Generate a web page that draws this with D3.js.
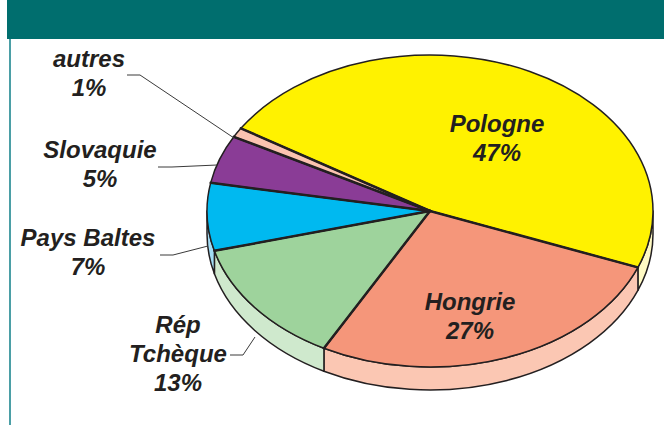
<!DOCTYPE html>
<html>
<head>
<meta charset="utf-8">
<script src="https://cdn.jsdelivr.net/npm/d3@7"></script>
<style>
  body { margin: 0; background: #fff; }
  text { font-family: "Liberation Sans", Arial, sans-serif; font-weight: bold; font-style: italic; fill: #231f20; }
</style>
</head>
<body>
<div class="chart"></div>
<script>
const w = 664;
const h = 425;

// data
const countries = ["Pologne", "Hongrie", "Rép Tchèque", "Pays Baltes", "Slovaquie", "autres"];
const shares = [47, 27, 13, 7, 5, 1];
const topColors = ["#fff200", "#f5967a", "#9ed39c", "#00b9f0", "#8a3c96", "#fbc3b0"];
const sideColors = ["#fffac4", "#fbc7b3", "#cfe9cd", "#a2dcf5", "#c9a6cf", "#fde0d6"];

const cx = 430, cy = 211, rx = 223, ry = 156, depth = 23;

// label layout: [x, first baseline, lines]
const labels = [
    { x: 497, y: 132, lines: ["Pologne", "47%"] },
    { x: 470, y: 310, lines: ["Hongrie", "27%"] },
    { x: 178, y: 333, lines: ["Rép", "Tchèque", "13%"] },
    { x: 88, y: 246, lines: ["Pays Baltes", "7%"] },
    { x: 100, y: 158, lines: ["Slovaquie", "5%"] },
    { x: 89, y: 67, lines: ["autres", "1%"] }
];
const leaders = [
    null,
    null,
    [[230, 355], [243, 355], [255, 337]],
    [[160, 255], [173, 255], [208, 246]],
    [[158, 167], [172, 167], [217, 165]],
    [[127, 75], [140, 75], [234, 138]]
];

const svg = d3.select(".chart")
    .append("svg")
    .attr("width", w)
    .attr("height", h)

// header band and frame line
svg.append("rect").attr("x", 7).attr("y", 0).attr("width", w - 7).attr("height", 39).attr("fill", "#006e6e")
svg.append("rect").attr("x", 9).attr("y", 39).attr("width", 2).attr("height", h - 39).attr("fill", "#4b9fa6")

const start = -58 * Math.PI / 180;
const pie = d3.pie().sort(null).startAngle(start).endAngle(start + 2 * Math.PI);
const arcs = pie(shares);

function pt(a, dy) {
    return [cx + rx * Math.sin(a), cy - ry * Math.cos(a) + (dy || 0)];
}

// side walls for the front half
const sides = [];
arcs.forEach(function (d, i) {
    [0, 2 * Math.PI, -2 * Math.PI].forEach(function (off) {
        const b0 = Math.max(d.startAngle + off, Math.PI / 2);
        const b1 = Math.min(d.endAngle + off, 3 * Math.PI / 2);
        if (b1 > b0) sides.push({ i: i, b0: b0, b1: b1 });
    });
});

svg.append("g").selectAll("path")
    .data(sides)
    .enter()
    .append("path")
    .attr("d", function (s) {
        const p0 = pt(s.b0), p1 = pt(s.b1), q1 = pt(s.b1, depth), q0 = pt(s.b0, depth);
        return "M" + p0 + "A" + rx + "," + ry + " 0 0 1 " + p1 + "L" + q1 +
            "A" + rx + "," + ry + " 0 0 0 " + q0 + "Z";
    })
    .attr("fill", (s) => sideColors[s.i])
    .attr("stroke", "#231f20")
    .attr("stroke-width", 1.5)
    .attr("stroke-linejoin", "round")

// top face
svg.append("g").selectAll("path")
    .data(arcs)
    .enter()
    .append("path")
    .attr("d", function (d) {
        const large = d.endAngle - d.startAngle > Math.PI ? 1 : 0;
        return "M" + cx + "," + cy + "L" + pt(d.startAngle) +
            "A" + rx + "," + ry + " 0 " + large + " 1 " + pt(d.endAngle) + "Z";
    })
    .attr("fill", (d, i) => topColors[i])
    .attr("stroke", "#231f20")
    .attr("stroke-width", 1.5)
    .attr("stroke-linejoin", "round")

// radial edges are heavier
svg.append("g").selectAll("line")
    .data(arcs)
    .enter()
    .append("line")
    .attr("x1", cx)
    .attr("y1", cy)
    .attr("x2", (d) => pt(d.startAngle)[0])
    .attr("y2", (d) => pt(d.startAngle)[1])
    .attr("stroke", "#231f20")
    .attr("stroke-width", 2.5)
    .attr("stroke-linecap", "round")

// leader lines
svg.append("g").selectAll("path")
    .data(leaders.filter((l) => l))
    .enter()
    .append("path")
    .attr("d", (l) => d3.line()(l))
    .attr("fill", "none")
    .attr("stroke", "#3a3a3a")
    .attr("stroke-width", 1)

// labels
const lab = svg.append("g").selectAll("text")
    .data(labels)
    .enter()
    .append("text")
    .attr("text-anchor", "middle")
    .style("font-size", "24px")

lab.selectAll("tspan")
    .data((d) => d.lines.map((t, j) => ({ t: t, x: d.x, y: d.y + j * 29 })))
    .enter()
    .append("tspan")
    .attr("x", (d) => d.x)
    .attr("y", (d) => d.y)
    .text((d) => d.t)
</script>
</body>
</html>
